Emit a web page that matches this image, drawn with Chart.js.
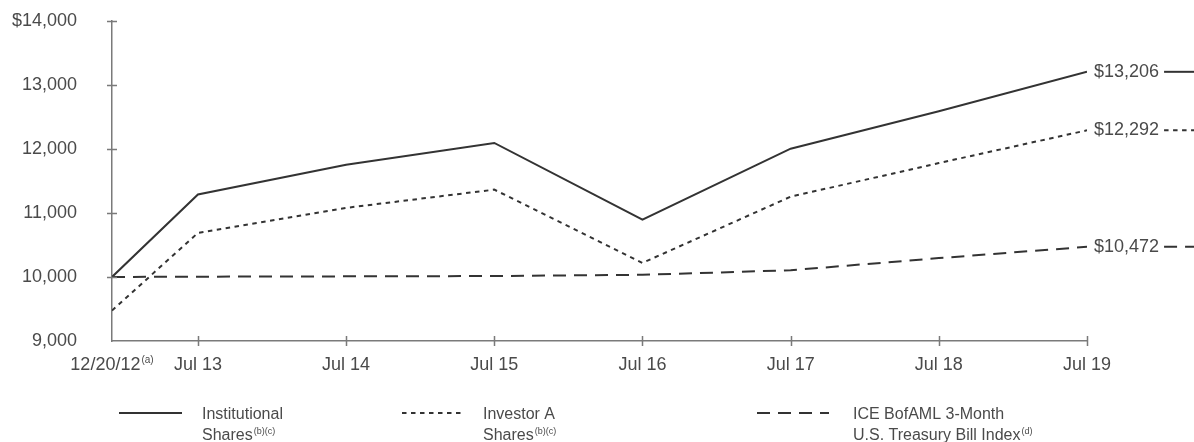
<!DOCTYPE html>
<html>
<head>
<meta charset="utf-8">
<script src="https://cdn.jsdelivr.net/npm/chart.js@4/dist/chart.umd.min.js"></script>
<style>
  html, body { margin: 0; padding: 0; background: #fff; }
  #wrap { width: 1194px; height: 442px; }
</style>
</head>
<body>
<div id="wrap"><canvas id="growth" width="1194" height="442"></canvas></div>
<script>
// Growth of a $10,000 investment
const periodLabels = ['12/20/12', 'Jul 13', 'Jul 14', 'Jul 15', 'Jul 16', 'Jul 17', 'Jul 18', 'Jul 19'];
const periodNotes  = ['(a)', '', '', '', '', '', '', ''];
const periodYears  = [0, 0.58, 1.58, 2.58, 3.58, 4.58, 5.58, 6.58];

const institutional = [10000, 11290, 11755, 12095, 10895, 12005, 12590, 13206];
const investorA     = [9475, 10690, 11080, 11365, 10220, 11255, 11780, 12292];
const treasuryIndex = [10000, 10005, 10010, 10015, 10035, 10105, 10295, 10472];

const yTicks = [9000, 10000, 11000, 12000, 13000, 14000];

const seriesNames = [
  ['Institutional', 'Shares'],
  ['Investor A', 'Shares'],
  ['ICE BofAML 3-Month', 'U.S. Treasury Bill Index']
];
const seriesNotes = ['(b)(c)', '(b)(c)', '(d)'];

const LINE = '#333333';
const TEXT = '#4a4a4a';
const AXIS = '#7a7a7a';
const FONT = '"Liberation Sans", Arial, Helvetica, sans-serif';
const dashes = [[], [4.5, 4.5], [13, 8]];

function toPoints(values) {
  return values.map((v, i) => ({ x: periodYears[i], y: v }));
}

const fmt = v => v.toLocaleString('en-US');

// Text with a small raised note after it
function drawNoted(ctx, text, note, x, y, size, align) {
  ctx.font = size + 'px ' + FONT;
  const w = ctx.measureText(text).width;
  ctx.font = Math.round(size * 0.55) + 'px ' + FONT;
  const nw = note ? ctx.measureText(note).width + 1 : 0;
  let left = x;
  if (align === 'center') left = x - (w + nw) / 2;
  ctx.textAlign = 'left';
  ctx.textBaseline = 'alphabetic';
  ctx.font = size + 'px ' + FONT;
  ctx.fillText(text, left, y);
  if (note) {
    ctx.font = Math.round(size * 0.55) + 'px ' + FONT;
    ctx.fillText(note, left + w + 1, y - size * 0.38);
  }
}

const decorations = {
  id: 'decorations',
  afterDraw(chart) {
    const ctx = chart.ctx;
    const xs = chart.scales.x, ys = chart.scales.y;
    const area = chart.chartArea;
    ctx.save();

    // tick crosses on both axes
    ctx.strokeStyle = AXIS;
    ctx.lineWidth = 1.5;
    ctx.beginPath();
    yTicks.slice(1).forEach(v => {
      const py = Math.round(ys.getPixelForValue(v)) + 0.5;
      ctx.moveTo(area.left - 5, py);
      ctx.lineTo(area.left + 5, py);
    });
    periodYears.slice(1).forEach(v => {
      const px = Math.round(xs.getPixelForValue(v)) + 0.5;
      ctx.moveTo(px, area.bottom - 5);
      ctx.lineTo(px, area.bottom + 5);
    });
    ctx.stroke();

    // period labels under the x axis
    ctx.fillStyle = TEXT;
    periodYears.forEach((v, i) => {
      drawNoted(ctx, periodLabels[i], periodNotes[i], xs.getPixelForValue(v), area.bottom + 29, 18, 'center');
    });

    // ending values with a short key stroke
    chart.data.datasets.forEach((ds, i) => {
      const meta = chart.getDatasetMeta(i);
      const last = meta.data[meta.data.length - 1];
      const value = ds.data[ds.data.length - 1].y;
      const label = '$' + fmt(value);
      ctx.font = '18px ' + FONT;
      ctx.fillStyle = TEXT;
      ctx.textAlign = 'left';
      ctx.textBaseline = 'middle';
      const tx = last.x + 7;
      ctx.fillText(label, tx, last.y);
      const w = ctx.measureText(label).width;
      ctx.strokeStyle = LINE;
      ctx.lineWidth = 2;
      ctx.setLineDash(dashes[i]);
      ctx.beginPath();
      ctx.moveTo(tx + w + 5, last.y);
      ctx.lineTo(chart.width, last.y);
      ctx.stroke();
      ctx.setLineDash([]);
    });

    // legend
    const keys = [
      { x0: 119, x1: 182, tx: 202 },
      { x0: 402, x1: 462, tx: 483 },
      { x0: 757, x1: 829, tx: 853 }
    ];
    keys.forEach((k, i) => {
      const ly = 413;
      ctx.strokeStyle = LINE;
      ctx.lineWidth = 2;
      ctx.setLineDash(dashes[i]);
      ctx.beginPath();
      ctx.moveTo(k.x0, ly);
      ctx.lineTo(k.x1, ly);
      ctx.stroke();
      ctx.setLineDash([]);
      ctx.fillStyle = TEXT;
      drawNoted(ctx, seriesNames[i][0], '', k.tx, ly + 6, 16, 'left');
      drawNoted(ctx, seriesNames[i][1], seriesNotes[i], k.tx, ly + 27, 16, 'left');
    });

    ctx.restore();
  }
};

const seriesData = [institutional, investorA, treasuryIndex];

new Chart(document.getElementById('growth'), {
  type: 'line',
  data: {
    datasets: seriesData.map((vals, i) => ({
      label: seriesNames[i].join(' '),
      data: toPoints(vals),
      borderColor: LINE,
      borderWidth: 2,
      borderDash: dashes[i],
      pointRadius: 0,
      tension: 0,
      fill: false
    }))
  },
  options: {
    responsive: false,
    animation: false,
    events: [],
    layout: { padding: { top: 21, right: 107, bottom: 0, left: 0 } },
    plugins: { legend: { display: false }, tooltip: { enabled: false } },
    scales: {
      x: {
        type: 'linear',
        min: periodYears[0],
        max: periodYears[periodYears.length - 1],
        afterBuildTicks: s => { s.ticks = periodYears.map(v => ({ value: v })); },
        afterFit: s => { s.height = 101; s.paddingLeft = 0; s.paddingRight = 0; },
        ticks: { display: false },
        grid: { display: false, drawTicks: false },
        border: { display: true, color: AXIS, width: 1.5 }
      },
      y: {
        min: yTicks[0],
        max: yTicks[yTicks.length - 1],
        afterBuildTicks: s => { s.ticks = yTicks.map(v => ({ value: v })); },
        afterFit: s => { s.width = 112; s.paddingTop = 0; s.paddingBottom = 0; },
        ticks: {
          padding: 35,
          color: TEXT,
          font: { family: FONT, size: 18 },
          callback: v => (v === yTicks[yTicks.length - 1] ? '$' : '') + fmt(v)
        },
        grid: { display: false, drawTicks: false },
        border: { display: true, color: AXIS, width: 1.5 }
      }
    }
  },
  plugins: [decorations]
});
</script>
</body>
</html>
